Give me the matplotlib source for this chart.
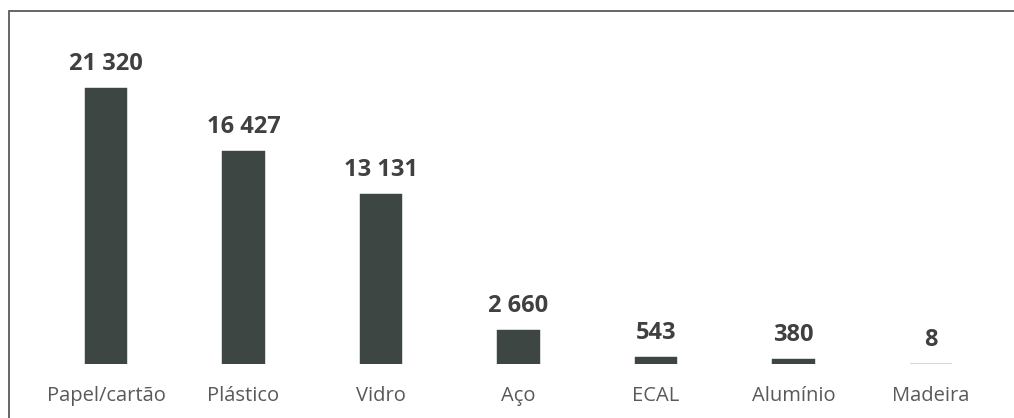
import matplotlib
matplotlib.use("Agg")
import matplotlib.pyplot as plt
from matplotlib.patches import Rectangle

categories = ["Papel/cartão", "Plástico", "Vidro", "Aço", "ECAL", "Alumínio", "Madeira"]
values = [21320, 16427, 13131, 2660, 543, 380, 8]
value_labels = ["21 320", "16 427", "13 131", "2 660", "543", "380", "8"]

plt.rcParams["font.family"] = ["Open Sans", "DejaVu Sans"]

W, H = 1014, 418
fig = plt.figure(figsize=(W / 100, H / 100), dpi=100)

# axes placed in pixels: baseline at y=364, 7 slots spaced ~137.5 px
left, right, base, top = 37.25, 999.75, 364, 40.4
ax = fig.add_axes([left / W, 1 - base / H, (right - left) / W, (base - top) / H])

x = list(range(len(categories)))
ax.bar(x, values, width=0.31, color="#3d4643", edgecolor="#3d4643", linewidth=0.3)
ax.set_xlim(-0.5, len(categories) - 0.5)
ax.set_ylim(0, 25000)
ax.axis("off")

px = 72 / 100  # points per pixel
for i, (v, lab) in enumerate(zip(values, value_labels)):
    ax.annotate(lab, (i, v), xytext=(0, 18 * px), textcoords="offset points",
                ha="center", va="baseline", fontsize=17, fontweight="bold",
                color="#404040")
    ax.annotate(categories[i], (i, 0), xytext=(0, -37 * px), textcoords="offset points",
                ha="center", va="baseline", fontsize=14.5, color="#595959",
                annotation_clip=False)

# chart frame (right and bottom edges fall outside the image)
fig.patches.append(Rectangle((8.5 / W, -0.1), 1.2, 1 - 11 / H + 0.1,
                             transform=fig.transFigure, fill=False,
                             edgecolor="#595959", linewidth=1.3))

fig.savefig("out.png", dpi=100)
